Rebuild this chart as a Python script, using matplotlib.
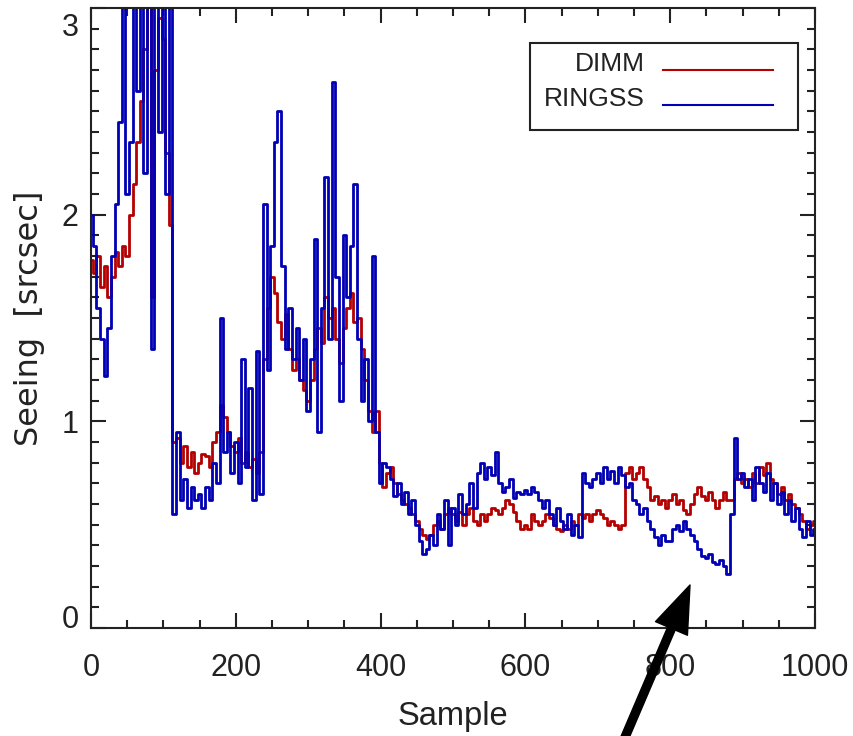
import numpy as np
import matplotlib
matplotlib.use("Agg")
import matplotlib.pyplot as plt
from matplotlib.patches import Rectangle
from matplotlib.transforms import ScaledTranslation

# Sample index (every 5th sample)
samples = list(range(0, 1001, 5))

dimm = [
    1.78, 1.72, 1.80, 1.65, 1.75, 1.60, 1.70, 1.82, 1.75, 1.85,
    1.80, 2.00, 2.15, 2.35, 2.55, 2.80, 3.05, 1.60, 2.70, 2.95,
    2.85, 2.30, 1.95, 0.90, 0.92, 0.80, 0.88, 0.78, 0.85, 0.75,
    0.80, 0.84, 0.83, 0.78, 0.90, 0.95, 1.08, 1.02, 0.95, 0.88,
    0.85, 0.92, 0.80, 0.85, 0.78, 0.82, 0.75, 0.85, 1.30, 1.55,
    1.70, 1.62, 1.48, 1.40, 1.52, 1.35, 1.25, 1.30, 1.20, 1.15,
    1.10, 1.20, 1.35, 1.45, 1.38, 1.60, 1.50, 1.55, 1.40, 1.28,
    1.45, 1.55, 1.62, 1.48, 1.50, 1.35, 1.20, 1.05, 0.95, 1.05,
    0.80, 0.68, 0.75, 0.78, 0.70, 0.65, 0.62, 0.60, 0.58, 0.55,
    0.52, 0.48, 0.45, 0.43, 0.45, 0.50, 0.52, 0.48, 0.55, 0.58,
    0.55, 0.52, 0.56, 0.50, 0.55, 0.58, 0.52, 0.50, 0.55, 0.52,
    0.55, 0.58, 0.57, 0.55, 0.58, 0.62, 0.60, 0.56, 0.52, 0.48,
    0.50, 0.48, 0.55, 0.52, 0.50, 0.52, 0.55, 0.53, 0.50, 0.48,
    0.47, 0.50, 0.48, 0.52, 0.50, 0.55, 0.53, 0.55, 0.52, 0.55,
    0.57, 0.55, 0.53, 0.50, 0.52, 0.50, 0.48, 0.50, 0.75, 0.78,
    0.72, 0.75, 0.78, 0.72, 0.68, 0.62, 0.64, 0.60, 0.62, 0.58,
    0.62, 0.65, 0.60, 0.62, 0.57, 0.55, 0.60, 0.65, 0.68, 0.64,
    0.62, 0.66, 0.62, 0.58, 0.62, 0.66, 0.62, 0.62, 0.72, 0.75,
    0.70, 0.72, 0.68, 0.75, 0.70, 0.78, 0.74, 0.80, 0.72, 0.70,
    0.65, 0.68, 0.62, 0.65, 0.60, 0.58, 0.55, 0.52, 0.48, 0.50,
    0.52,
]

ringss = [
    2.00, 1.85, 1.55, 1.40, 1.22, 1.45, 1.80, 2.05, 2.45, 3.20,
    2.10, 2.35, 3.30, 2.60, 3.40, 2.20, 3.20, 1.35, 3.10, 2.40,
    3.30, 2.10, 3.30, 0.55, 0.95, 0.62, 0.72, 0.58, 0.68, 0.62,
    0.65, 0.58, 0.68, 0.62, 0.80, 0.70, 1.50, 0.85, 0.95, 0.75,
    0.90, 0.70, 1.30, 0.78, 1.16, 0.62, 1.34, 0.65, 2.05, 1.25,
    1.85, 2.35, 2.50, 1.75, 1.35, 1.55, 1.30, 1.45, 1.20, 1.40,
    1.05, 1.30, 1.88, 0.95, 1.55, 2.18, 1.40, 2.64, 1.70, 1.10,
    1.90, 1.60, 1.85, 2.15, 1.40, 1.10, 1.30, 1.00, 1.80, 0.95,
    0.70, 0.80, 0.78, 0.72, 0.64, 0.70, 0.60, 0.66, 0.55, 0.62,
    0.50, 0.42, 0.36, 0.38, 0.45, 0.40, 0.55, 0.48, 0.62, 0.40,
    0.58, 0.50, 0.65, 0.55, 0.60, 0.70, 0.58, 0.75, 0.80, 0.72,
    0.78, 0.74, 0.85, 0.70, 0.66, 0.68, 0.72, 0.63, 0.66, 0.65,
    0.67, 0.65, 0.68, 0.66, 0.62, 0.58, 0.62, 0.55, 0.50, 0.58,
    0.52, 0.48, 0.55, 0.45, 0.50, 0.44, 0.75, 0.70, 0.68, 0.72,
    0.75, 0.70, 0.78, 0.72, 0.76, 0.70, 0.78, 0.74, 0.68, 0.70,
    0.62, 0.60, 0.55, 0.58, 0.52, 0.48, 0.44, 0.40, 0.45, 0.42,
    0.42, 0.48, 0.50, 0.47, 0.52, 0.48, 0.45, 0.42, 0.38, 0.35,
    0.34, 0.36, 0.32, 0.31, 0.33, 0.30, 0.26, 0.55, 0.92, 0.72,
    0.75, 0.68, 0.72, 0.62, 0.78, 0.70, 0.66, 0.75, 0.62, 0.70,
    0.60, 0.66, 0.55, 0.62, 0.52, 0.58, 0.48, 0.44, 0.52, 0.45,
    0.48,
]

series_labels = ["DIMM", "RINGSS"]
x_ticks = [0, 200, 400, 600, 800, 1000]
y_ticks = [0, 1, 2, 3]

RED = "#b40000"
BLUE = "#0000b4"
INK = "#222222"

plt.rcParams["font.family"] = ["Liberation Sans", "DejaVu Sans"]

fig = plt.figure(figsize=(8.54, 7.36), dpi=100)
ax = fig.add_axes([91/854, 1-628/736, 724/854, 620/736])

ax.plot(samples, dimm, color=RED, lw=2.0, drawstyle="steps-mid")
ax.plot(samples, ringss, color=BLUE, lw=2.0, drawstyle="steps-mid")

ax.set_xlim(0, 1000)
ax.set_ylim(0, 3)
ax.set_xticks(x_ticks)
ax.set_yticks(y_ticks)
ax.set_xticks(np.arange(0, 1001, 50), minor=True)
ax.set_yticks(np.arange(0, 3.01, 0.1), minor=True)
ax.tick_params(which="both", direction="in", top=True, right=True, width=1.5,
               labelsize=22, colors=INK)
ax.tick_params(which="major", length=11)
ax.tick_params(which="minor", length=6)
ax.tick_params(axis="x", pad=18)
ax.tick_params(axis="y", pad=9)
for s in ax.spines.values():
    s.set_linewidth(1.5)
    s.set_color(INK)

# IDL-style placement of the end labels on the y axis
yt = ax.yaxis.get_major_ticks()
yt[0].label1.set_transform(yt[0].label1.get_transform()
                           + ScaledTranslation(0, 8/72, fig.dpi_scale_trans))
yt[-1].label1.set_transform(yt[-1].label1.get_transform()
                            + ScaledTranslation(0, -12/72, fig.dpi_scale_trans))

ax.set_xlabel("Sample", fontsize=23.5, color=INK)
ax.xaxis.set_label_coords(0.5, -0.118)
ax.set_ylabel("Seeing  [srcsec]", fontsize=23, color=INK, family="DejaVu Sans")
ax.yaxis.set_label_coords(-0.0635, 0.5)

# manual IDL-style legend
ax.add_patch(Rectangle((0.606, 0.803), 0.3705, 0.1405, transform=ax.transAxes,
                       fill=True, facecolor="white", edgecolor=INK,
                       lw=1.5, zorder=5))
leg_y = [0.904, 0.848]
for lab, col, yy in zip(series_labels, [RED, BLUE], leg_y):
    ax.text(0.765, yy + 0.006, lab, transform=ax.transAxes, ha="right",
            va="center", fontsize=19, color=INK, zorder=6)
    ax.plot([0.79, 0.942], [yy - 0.004, yy - 0.004], transform=ax.transAxes,
            color=col, lw=1.5, zorder=6)

# annotation arrow
ax.annotate("", xy=(690, 151), xycoords="figure pixels",
            xytext=(617, -20), textcoords="figure pixels",
            arrowprops=dict(facecolor="black", edgecolor="black", width=5.8,
                            headwidth=25, headlength=34, shrink=0),
            annotation_clip=False)

fig.savefig("out.png", dpi=100)
